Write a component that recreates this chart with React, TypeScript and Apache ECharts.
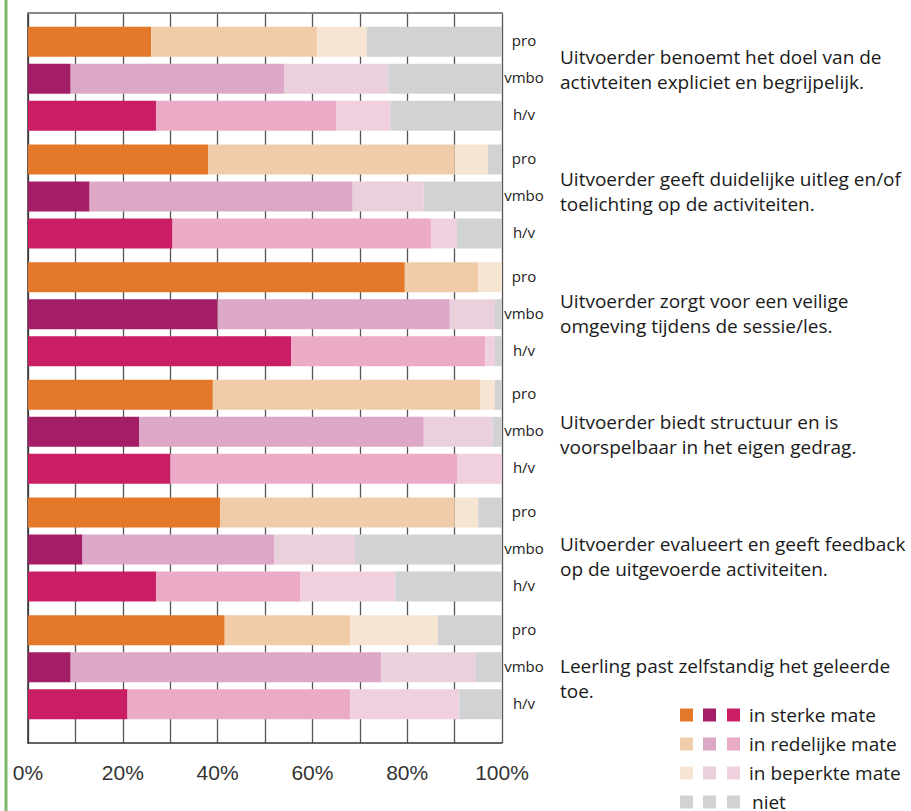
import React, { useEffect, useRef } from "react";
import * as echarts from "echarts";

const statements = [
  "Uitvoerder benoemt het doel van de\nactivteiten expliciet en begrijpelijk.",
  "Uitvoerder geeft duidelijke uitleg en/of\ntoelichting op de activiteiten.",
  "Uitvoerder zorgt voor een veilige\nomgeving tijdens de sessie/les.",
  "Uitvoerder biedt structuur en is\nvoorspelbaar in het eigen gedrag.",
  "Uitvoerder evalueert en geeft feedback\nop de uitgevoerde activiteiten.",
  "Leerling past zelfstandig het geleerde\ntoe.",
];
const schoolTypes = ["pro", "vmbo", "h/v"];
const levels = ["in sterke mate", "in redelijke mate", "in beperkte mate", "niet"];
const xTicks = [0, 20, 40, 60, 80, 100];

const proSterk = [26, 38, 79.5, 39, 40.5, 41.5];
const proRedelijk = [35, 52, 15.5, 56.5, 49.5, 26.5];
const proBeperkt = [10.5, 7, 5, 3, 5, 18.5];
const proNiet = [28.5, 3, 0, 1.5, 5, 13.5];

const vmboSterk = [9, 13, 40, 23.5, 11.5, 9];
const vmboRedelijk = [45, 55.5, 49, 60, 40.5, 65.5];
const vmboBeperkt = [22, 15, 9.5, 14.5, 17, 20];
const vmboNiet = [24, 16.5, 1.5, 2, 31, 5.5];

const hvSterk = [27, 30.5, 55.5, 30, 27, 21];
const hvRedelijk = [38, 54.5, 41, 60.5, 30.5, 47];
const hvBeperkt = [11.5, 5.5, 2, 9.5, 20, 23];
const hvNiet = [23.5, 9.5, 1.5, 0, 22.5, 9];

const valuesByType = [
  [proSterk, proRedelijk, proBeperkt, proNiet],
  [vmboSterk, vmboRedelijk, vmboBeperkt, vmboNiet],
  [hvSterk, hvRedelijk, hvBeperkt, hvNiet],
];

// colors [type][level]
const colors = [
  ["#E3782A", "#F0CDA8", "#F6E5D2", "#D1D2D4"],
  ["#A31D67", "#DDA8C7", "#EAD0DD", "#D1D2D4"],
  ["#C91E66", "#EBAAC6", "#F0D0DE", "#D1D2D4"],
];

const TEXT_FONT = "Open Sans";

export default function App() {
  const ref = useRef<HTMLDivElement>(null);
  useEffect(() => {
    if (!ref.current) return;
    const chart = echarts.init(ref.current, null, { renderer: "svg" });

    const series: any[] = [];
    levels.forEach((lvl, li) => {
      schoolTypes.forEach((st, si) => {
        series.push({
          name: st + " – " + lvl,
          type: "bar",
          xAxisIndex: 1,
          yAxisIndex: 1,
          stack: st,
          barWidth: 30,
          barGap: "23.3%",
          data: valuesByType[si][li],
          itemStyle: { color: colors[si][li] },
          label:
            li === levels.length - 1
              ? {
                  show: true,
                  position: "right",
                  distance: 22,
                  align: "center",
                  offset: [0, -1.5],
                  formatter: () => st,
                  fontFamily: TEXT_FONT,
                  fontSize: 15,
                  color: "#222",
                }
              : { show: false },
        });
      });
    });

    const legendGraphics: any[] = [];
    const legendX = [680, 703, 727];
    const legendY = [715, 744, 773, 802];
    levels.forEach((lvl, li) => {
      schoolTypes.forEach((st, si) => {
        legendGraphics.push({
          type: "rect",
          shape: { x: legendX[si], y: legendY[li] - 6.5, width: 13, height: 13 },
          style: { fill: colors[si][li] },
        });
      });
      legendGraphics.push({
        type: "text",
        x: li === 3 ? 752 : 749,
        y: legendY[li],
        style: {
          text: lvl,
          fill: "#1a1a1a",
          font: `19px "${TEXT_FONT}"`,
          verticalAlign: "middle",
          align: "left",
        },
      });
    });

    chart.setOption({
      animation: false,
      grid: [
        { left: 28, top: 13, width: 474, height: 730 },
        { left: 28, top: 20, width: 474, height: 706 },
        { left: 28, top: 9, width: 474, height: 730 },
      ],
      xAxis: [
        {
          gridIndex: 0,
          type: "value",
          min: 0,
          max: 100,
          interval: 10,
          position: "bottom",
          axisLine: { show: true, lineStyle: { color: "#333", width: 1.5 } },
          axisTick: { show: false },
          splitLine: { show: true, lineStyle: { color: "#555", width: 1.3 } },
          axisLabel: {
            margin: 19,
            fontFamily: "Liberation Sans",
            fontSize: 21,
            color: "#333",
            formatter: (v: number) => (xTicks.includes(v) ? v + "%" : ""),
          },
        },
        {
          gridIndex: 1,
          type: "value",
          min: 0,
          max: 100,
          show: false,
        },
        {
          gridIndex: 2,
          type: "value",
          min: 0,
          max: 100,
          show: false,
        },
        {
          gridIndex: 0,
          type: "value",
          min: 0,
          max: 100,
          position: "top",
          axisLine: { show: true, lineStyle: { color: "#888", width: 2 } },
          axisTick: { show: false },
          axisLabel: { show: false },
          splitLine: { show: false },
        },
      ],
      yAxis: [
        {
          gridIndex: 0,
          type: "value",
          min: 0,
          max: 1,
          axisLine: { show: true, lineStyle: { color: "#333", width: 1.5 } },
          axisTick: { show: false },
          axisLabel: { show: false },
          splitLine: { show: false },
        },
        {
          gridIndex: 1,
          type: "category",
          inverse: true,
          data: statements,
          show: false,
        },
        {
          gridIndex: 2,
          type: "category",
          inverse: true,
          position: "right",
          data: statements,
          axisLine: { show: false },
          axisTick: { show: false },
          splitLine: { show: false },
          axisLabel: {
            margin: 58,
            align: "left",
            fontFamily: TEXT_FONT,
            fontSize: 19,
            lineHeight: 25,
            color: "#1a1a1a",
          },
        },
      ],
      series,
      graphic: [
        {
          type: "line",
          shape: { x1: 6, y1: 0, x2: 6, y2: 811 },
          style: { stroke: "#7CB96A", lineWidth: 3 },
        },
        ...legendGraphics,
      ],
    });
    return () => chart.dispose();
  }, []);
  return (
    <div
      ref={ref}
      style={{ position: "absolute", left: 0, top: 0, width: 911, height: 811 }}
    />
  );
}
